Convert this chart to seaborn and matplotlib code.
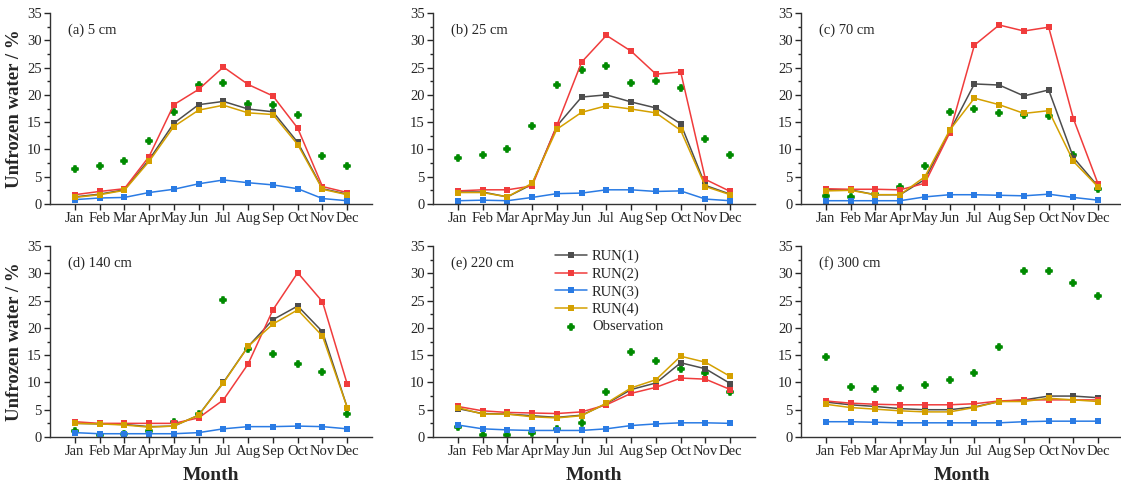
import numpy as np
import pandas as pd
import matplotlib
matplotlib.use('Agg')
import matplotlib.pyplot as plt
from matplotlib.ticker import MultipleLocator
import seaborn as sns

months = ['Jan', 'Feb', 'Mar', 'Apr', 'May', 'Jun', 'Jul', 'Aug', 'Sep', 'Oct', 'Nov', 'Dec']
depths = ['(a) 5 cm', '(b) 25 cm', '(c) 70 cm', '(d) 140 cm', '(e) 220 cm', '(f) 300 cm']

# (a) 5 cm
a_run1 = [1.3, 1.8, 2.6, 8.1, 14.8, 18.2, 18.8, 17.4, 16.9, 11.3, 2.8, 1.8]
a_run2 = [1.7, 2.3, 2.8, 8.7, 18.2, 21.0, 25.1, 21.9, 19.8, 13.9, 3.2, 2.1]
a_run3 = [0.8, 1.1, 1.2, 2.1, 2.7, 3.7, 4.4, 3.9, 3.5, 2.8, 1.0, 0.6]
a_run4 = [1.2, 1.7, 2.5, 7.8, 14.2, 17.2, 18.1, 16.7, 16.4, 10.9, 2.7, 1.7]
a_obs = [6.5, 6.9, 7.8, 11.5, 16.9, 21.8, 22.2, 18.3, 18.1, 16.3, 8.8, 6.9]

# (b) 25 cm
b_run1 = [2.2, 2.2, 1.3, 3.6, 14.3, 19.6, 20.0, 18.7, 17.6, 14.7, 3.4, 1.8]
b_run2 = [2.4, 2.6, 2.6, 3.3, 14.4, 26.0, 30.9, 28.0, 23.8, 24.2, 4.5, 2.3]
b_run3 = [0.6, 0.7, 0.6, 1.2, 1.9, 2.0, 2.6, 2.6, 2.3, 2.4, 0.9, 0.6]
b_run4 = [2.1, 2.1, 1.3, 3.8, 13.7, 16.8, 18.0, 17.4, 16.7, 13.5, 3.2, 1.7]
b_obs = [8.5, 8.9, 10.1, 14.3, 21.8, 24.5, 25.2, 22.2, 22.5, 21.3, 12.0, 9.0]

# (c) 70 cm
c_run1 = [2.6, 2.6, 1.7, 1.7, 4.5, 13.3, 22.0, 21.8, 19.8, 20.9, 8.5, 3.2]
c_run2 = [2.8, 2.7, 2.7, 2.6, 3.8, 13.0, 29.1, 32.8, 31.7, 32.4, 15.6, 3.6]
c_run3 = [0.6, 0.6, 0.6, 0.6, 1.3, 1.7, 1.7, 1.6, 1.5, 1.8, 1.2, 0.7]
c_run4 = [2.4, 2.5, 1.7, 1.7, 5.0, 13.5, 19.4, 18.2, 16.6, 17.1, 7.8, 3.1]
c_obs = [1.4, 1.3, 1.8, 3.2, 6.9, 16.9, 17.4, 16.7, 16.3, 16.2, 9.0, 2.7]

# (d) 140 cm
d_run1 = [2.5, 2.4, 2.3, 1.9, 2.0, 4.0, 10.0, 16.6, 21.5, 24.0, 19.3, 5.4]
d_run2 = [2.8, 2.5, 2.5, 2.5, 2.5, 3.5, 6.8, 13.4, 23.3, 30.1, 24.8, 9.7]
d_run3 = [0.8, 0.6, 0.6, 0.6, 0.6, 0.8, 1.5, 1.9, 1.9, 2.0, 1.9, 1.5]
d_run4 = [2.5, 2.4, 2.2, 1.8, 2.0, 4.0, 9.9, 16.6, 20.7, 23.3, 18.5, 5.4]
d_obs = [1.1, 0.4, 0.6, 1.1, 2.8, 4.3, 25.1, 16.1, 15.2, 13.4, 11.9, 4.3]

# (e) 220 cm
e_run1 = [5.2, 4.3, 4.2, 3.9, 3.6, 4.0, 6.1, 8.7, 9.9, 13.6, 12.5, 9.8]
e_run2 = [5.6, 4.8, 4.5, 4.4, 4.3, 4.6, 5.9, 8.0, 9.1, 10.8, 10.6, 8.7]
e_run3 = [2.2, 1.5, 1.3, 1.2, 1.2, 1.2, 1.5, 2.1, 2.4, 2.6, 2.6, 2.5]
e_run4 = [5.4, 4.2, 4.2, 3.7, 3.5, 3.9, 6.2, 9.0, 10.5, 14.8, 13.7, 11.1]
e_obs = [1.8, 0.4, 0.3, 0.8, 1.4, 2.5, 8.3, 15.5, 13.9, 12.5, 11.7, 8.2]

# (f) 300 cm
f_run1 = [6.4, 5.9, 5.6, 5.2, 5.0, 5.0, 5.5, 6.5, 6.8, 7.5, 7.5, 7.2]
f_run2 = [6.6, 6.2, 6.0, 5.9, 5.9, 5.9, 6.1, 6.6, 6.8, 6.8, 6.8, 6.8]
f_run3 = [2.8, 2.8, 2.7, 2.6, 2.6, 2.6, 2.6, 2.6, 2.8, 2.9, 2.9, 2.9]
f_run4 = [6.0, 5.4, 5.1, 4.8, 4.6, 4.6, 5.4, 6.5, 6.5, 7.1, 6.8, 6.5]
f_obs = [14.6, 9.2, 8.8, 8.9, 9.6, 10.4, 11.7, 16.5, 30.4, 30.5, 28.3, 25.9]

panels = [
    (a_run1, a_run2, a_run3, a_run4, a_obs),
    (b_run1, b_run2, b_run3, b_run4, b_obs),
    (c_run1, c_run2, c_run3, c_run4, c_obs),
    (d_run1, d_run2, d_run3, d_run4, d_obs),
    (e_run1, e_run2, e_run3, e_run4, e_obs),
    (f_run1, f_run2, f_run3, f_run4, f_obs),
]

run_names = ['RUN(1)', 'RUN(2)', 'RUN(3)', 'RUN(4)']
run_colors = ['#4d4d4d', '#f03c3c', '#2a7be4', '#d4a000']
obs_color = '#008a00'

sns.set_style('ticks')
plt.rcParams['font.family'] = ['Liberation Serif', 'DejaVu Serif']
plt.rcParams['xtick.direction'] = 'out'
plt.rcParams['ytick.direction'] = 'out'

fig = plt.figure(figsize=(11.21, 4.88), dpi=100)
lefts = [50 / 1121, 433 / 1121, 801 / 1121]
bottoms = [(488 - 204) / 488, (488 - 437) / 488]
w = 322 / 1121
h = 191 / 488

x = np.arange(1, 13)
for i, (title, data) in enumerate(zip(depths, panels)):
    row, col = divmod(i, 3)
    ax = fig.add_axes([lefts[col], bottoms[row], w, h])
    for name, vals, colr in zip(run_names, data[:4], run_colors):
        sns.lineplot(x=x, y=vals, color=colr, marker='s', markersize=4.5,
                     markeredgewidth=0, linewidth=1.1, label=name, ax=ax)
    sns.scatterplot(x=x, y=data[4], color=obs_color, marker='P', s=22,
                    edgecolor=obs_color, linewidth=1.2, label='Observation', ax=ax)
    ax.set_xlim(0, 13)
    ax.set_ylim(0, 35)
    ax.set_xticks(x)
    ax.set_xticklabels(months)
    ax.yaxis.set_major_locator(MultipleLocator(5))
    ax.yaxis.set_minor_locator(MultipleLocator(2.5))
    ax.tick_params(axis='both', labelsize=10.5, length=4, width=1, pad=2)
    ax.tick_params(axis='y', which='minor', length=2.5, width=1)
    sns.despine(ax=ax)
    for sp in ['left', 'bottom']:
        ax.spines[sp].set_color('#333333')
        ax.spines[sp].set_linewidth(1.0)
    ax.text(0.056, 0.91, title, transform=ax.transAxes, fontsize=10.5,
            va='center', ha='left')
    ax.set_xlabel('')
    ax.set_ylabel('')
    if col == 0:
        ax.set_ylabel('Unfrozen water / %', fontsize=13.5, fontweight='bold', labelpad=3)
    if row == 1:
        ax.set_xlabel('Month', fontsize=14, fontweight='bold', labelpad=6)
    if i == 4:
        ax.legend(loc='upper left', bbox_to_anchor=(0.36, 1.01), frameon=False,
                  fontsize=10.5, handlelength=2.2, labelspacing=0.28,
                  handletextpad=0.35, borderaxespad=0)
    else:
        ax.get_legend().remove()

fig.savefig('out.png', dpi=100)
